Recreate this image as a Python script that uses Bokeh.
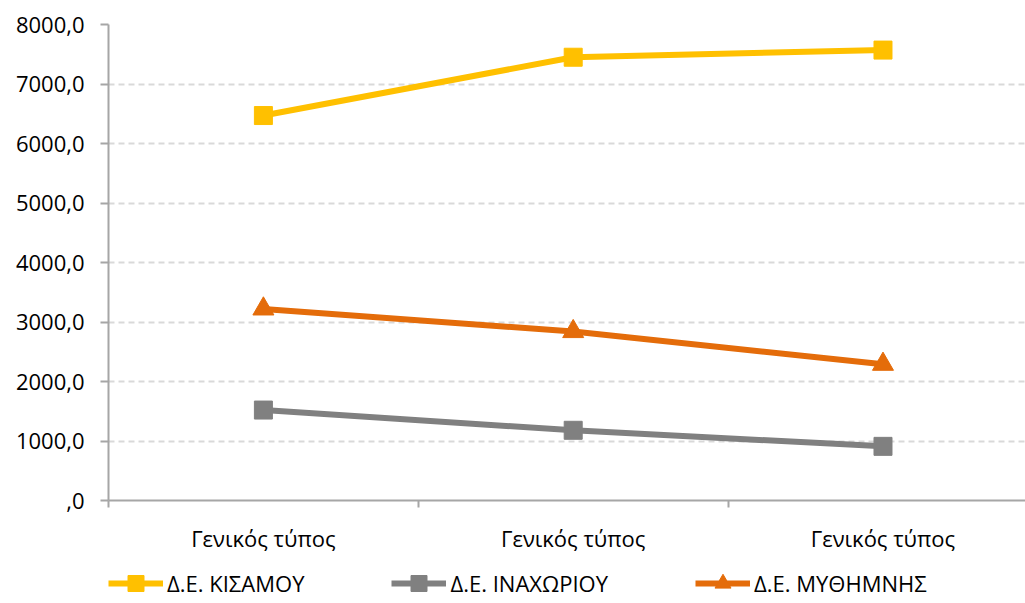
from bokeh.plotting import figure
from bokeh.models import Range1d, FixedTicker, Legend, LegendItem
from bokeh.layouts import column
from bokeh.embed import file_html
from bokeh.resources import INLINE

categories = ["Γενικός τύπος", "Γενικός τύπος", "Γενικός τύπος"]
kisamou = [6470, 7450, 7570]
inachoriou = [1520, 1180, 910]
mythimnis = [3220, 2840, 2290]
series_names = ["Δ.Ε. ΚΙΣΑΜΟΥ", "Δ.Ε. ΙΝΑΧΩΡΙΟΥ", "Δ.Ε. ΜΥΘΗΜΝΗΣ"]
y_ticks = [0, 1000, 2000, 3000, 4000, 5000, 6000, 7000, 8000]
y_tick_labels = [",0", "1000,0", "2000,0", "3000,0", "4000,0", "5000,0", "6000,0", "7000,0", "8000,0"]

FONT = "Open Sans"
FS = "22px"
x = list(range(len(categories)))

p = figure(width=1025, height=555, output_backend="svg", toolbar_location=None,
           x_range=Range1d(-0.5, 2.46), y_range=Range1d(0, 8000))
p.min_border_left = 108
p.min_border_right = 0
p.min_border_top = 24
p.min_border_bottom = 51
p.outline_line_color = None
p.background_fill_color = "white"
p.border_fill_color = "white"

axis_col = "#A6A6A6"
p.xaxis.ticker = FixedTicker(ticks=x, minor_ticks=[i - 0.5 for i in range(len(categories) + 1)])
p.xaxis.major_label_overrides = {i: c for i, c in zip(x, categories)}
p.xaxis.major_tick_out = 0
p.xaxis.major_tick_in = 0
p.xaxis.minor_tick_out = 7
p.xaxis.minor_tick_in = 0
p.xaxis.minor_tick_line_color = axis_col
p.xaxis.minor_tick_line_width = 2
p.xaxis.axis_line_color = axis_col
p.xaxis.axis_line_width = 2
p.xaxis.major_label_standoff = 15
p.xaxis.major_label_text_font = FONT
p.xaxis.major_label_text_font_size = FS
p.xaxis.major_label_text_color = "#000000"

p.yaxis.ticker = FixedTicker(ticks=y_ticks, minor_ticks=[])
p.yaxis.major_label_overrides = {t: l for t, l in zip(y_ticks, y_tick_labels)}
p.yaxis.major_tick_out = 8
p.yaxis.major_tick_in = 0
p.yaxis.major_tick_line_color = axis_col
p.yaxis.major_tick_line_width = 2
p.yaxis.axis_line_color = axis_col
p.yaxis.axis_line_width = 2
p.yaxis.major_label_standoff = 16
p.yaxis.major_label_text_font = FONT
p.yaxis.major_label_text_font_size = FS
p.yaxis.major_label_text_color = "#000000"

p.xgrid.grid_line_color = None
p.ygrid.grid_line_color = "#D9D9D9"
p.ygrid.grid_line_dash = "6 4"
p.ygrid.grid_line_width = 2

colors = ["#FFC000", "#808080", "#E46C0A"]
markers = ["square", "square", "triangle"]
sizes = [18, 18, 21]

# legend strip (separate figure below the chart); its series lie outside its view
p2 = figure(width=1025, height=48, output_backend="svg", toolbar_location=None,
            x_axis_location=None, y_axis_location=None,
            x_range=Range1d(100, 101), y_range=Range1d(-100000, -99999))
p2.min_border_left = 0
p2.min_border_right = 0
p2.min_border_top = 0
p2.min_border_bottom = 0
p2.outline_line_color = None
p2.xgrid.grid_line_color = None
p2.ygrid.grid_line_color = None

items = []
for vals, name, col, mk, sz in zip([kisamou, inachoriou, mythimnis], series_names, colors, markers, sizes):
    p.line(x, vals, line_color=col, line_width=6)
    p.scatter(x, vals, marker=mk, size=sz, fill_color=col, line_color=col)
    ln2 = p2.line(x, vals, line_color=col, line_width=6)
    sc2 = p2.scatter(x, vals, marker=mk, size=sz, fill_color=col, line_color=col)
    items.append(LegendItem(label=name, renderers=[ln2, sc2]))

legend = Legend(items=items, orientation="horizontal", location=(0, 0),
                glyph_width=55, glyph_height=40, label_standoff=4, label_height=40,
                spacing=87, padding=0, margin=0,
                label_text_font=FONT, label_text_font_size=FS, label_text_color="#000000",
                border_line_color=None, background_fill_alpha=0)
p2.add_layout(legend, "center")

layout = column(p, p2, spacing=0)
open("out.html", "w").write(file_html(layout, INLINE))
